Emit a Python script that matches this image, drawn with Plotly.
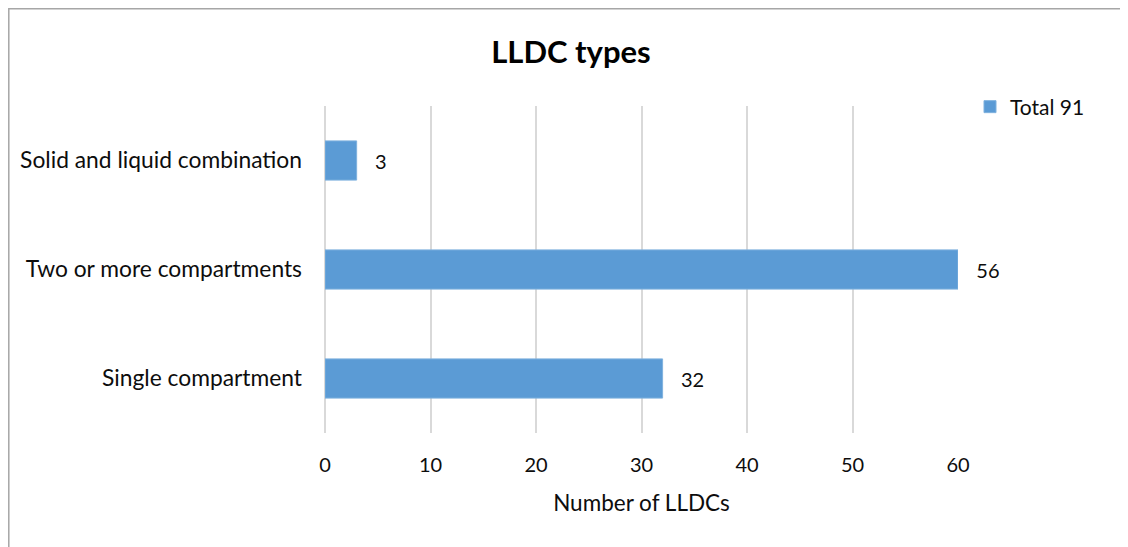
import plotly.graph_objects as go

# chart data
categories = ["Single compartment", "Two or more compartments", "Solid and liquid combination"]
counts = [32, 56, 3]           # values shown in the data labels
bar_lengths = [32, 60, 3]      # bar lengths as drawn in the source picture
series_name = "Total 91"
x_ticks = [0, 10, 20, 30, 40, 50, 60]

# page body has an 8px margin, so the figure is 8px smaller than the window
W, H = 1120, 539
L, T = 317, 98
plot_w, plot_h = 633, 327
R = W - L - plot_w
B = H - T - plot_h

fig = go.Figure()
fig.add_trace(go.Bar(
    y=categories,
    x=bar_lengths,
    orientation="h",
    name=series_name,
    marker=dict(color="#5B9BD5", line=dict(color="#7fb1de", width=1)),
    text=["\u00a0\u00a0\u00a0" + str(v) for v in counts],
    textposition="outside",
    textfont=dict(size=20, color="#0d0d0d"),
    cliponaxis=False,
    width=0.36,
    hoverinfo="y+text",
))

# outer chart border (only top and left edges are visible)
fig.add_shape(type="rect", xref="paper", yref="paper",
              x0=(0.8 - L) / plot_w, x1=(W + 20 - L) / plot_w,
              y0=-(B + 20) / plot_h, y1=(plot_h + T - 0.8) / plot_h,
              line=dict(color="#a6a6a6", width=1.5), layer="below")

fig.update_layout(
    width=W, height=H,
    margin=dict(l=L, r=R, t=T, b=B),
    paper_bgcolor="white", plot_bgcolor="white",
    font=dict(family="Lato, Open Sans, sans-serif", size=22, color="#0d0d0d"),
    title=dict(text="<b>LLDC types</b>", x=563 / W, xanchor="center",
               y=1 - 44 / H, yanchor="middle", font=dict(size=31, color="#000")),
    showlegend=True,
    legend=dict(x=(962 - L) / plot_w, y=(plot_h - 1) / plot_h, xanchor="left", yanchor="middle",
                font=dict(size=21), bgcolor="rgba(0,0,0,0)"),
    bargap=0.64,
)
fig.update_xaxes(range=[0, 60], tickvals=x_ticks, showgrid=True, gridcolor="#d9d9d9",
                 gridwidth=1.5, zeroline=True, zerolinecolor="#d9d9d9", zerolinewidth=1.5,
                 showline=False, ticks="", ticklabelstandoff=18, tickfont=dict(size=20),
                 title=dict(text="Number of LLDCs", font=dict(size=22.5), standoff=20))
fig.update_yaxes(categoryorder="array", categoryarray=categories, showgrid=False,
                 showline=False, ticks="", ticklabelstandoff=22, zeroline=False,
                 tickfont=dict(size=22.8))

fig.write_html("out.html")
